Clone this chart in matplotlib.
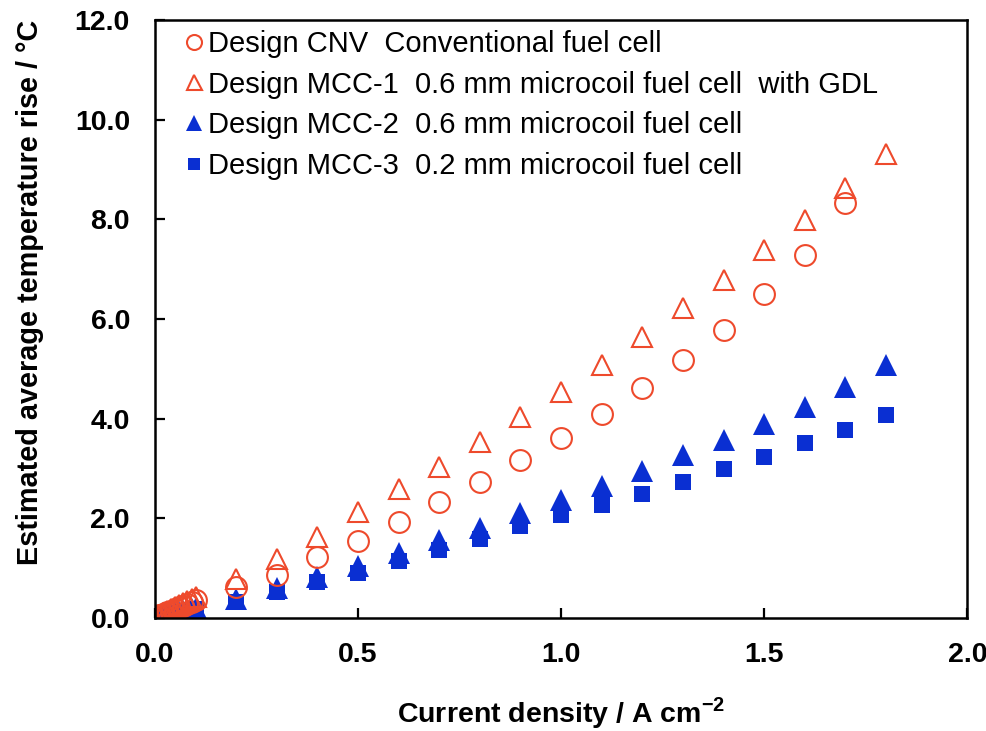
import matplotlib
matplotlib.use('Agg')
import matplotlib.pyplot as plt
from matplotlib.ticker import FormatStrFormatter, MultipleLocator

plt.rcParams['font.family'] = ['Liberation Sans', 'DejaVu Sans']

# current density, A cm-2
x_low = [0.0, 0.01, 0.02, 0.03, 0.04, 0.05, 0.06, 0.07, 0.08, 0.09, 0.1]
x_main = [0.2, 0.3, 0.4, 0.5, 0.6, 0.7, 0.8, 0.9, 1.0,
          1.1, 1.2, 1.3, 1.4, 1.5, 1.6, 1.7, 1.8]

# estimated average temperature rise, degC
cnv_low = [0.0, 0.05, 0.09, 0.12, 0.15, 0.19, 0.22, 0.25, 0.29, 0.32, 0.36]
cnv_main = [0.62, 0.86, 1.22, 1.54, 1.92, 2.32, 2.72, 3.18, 3.62,
            4.10, 4.62, 5.18, 5.78, 6.50, 7.28, 8.32]
mcc1_low = [0.0, 0.05, 0.10, 0.14, 0.18, 0.22, 0.26, 0.30, 0.34, 0.38, 0.42]
mcc1_main = [0.78, 1.19, 1.62, 2.12, 2.58, 3.04, 3.54, 4.04, 4.54,
             5.08, 5.64, 6.22, 6.78, 7.38, 7.98, 8.62, 9.32]
mcc2_low = [0.0, 0.02, 0.04, 0.06, 0.08, 0.10, 0.12, 0.14, 0.16, 0.18, 0.20]
mcc2_main = [0.38, 0.61, 0.82, 1.04, 1.30, 1.56, 1.80, 2.10, 2.36,
             2.64, 2.94, 3.28, 3.58, 3.90, 4.24, 4.64, 5.08]
mcc3_low = [0.0, 0.02, 0.04, 0.05, 0.07, 0.09, 0.11, 0.12, 0.14, 0.16, 0.18]
mcc3_main = [0.33, 0.52, 0.72, 0.90, 1.14, 1.36, 1.58, 1.84, 2.06,
             2.26, 2.48, 2.72, 2.98, 3.24, 3.52, 3.78, 4.08]

labels = ['Design CNV  Conventional fuel cell',
          'Design MCC-1  0.6 mm microcoil fuel cell  with GDL',
          'Design MCC-2  0.6 mm microcoil fuel cell',
          'Design MCC-3  0.2 mm microcoil fuel cell']

red = '#EE4A2C'
blue = '#0A2FD2'

fig = plt.figure(figsize=(9.87, 7.31), dpi=100)
ax = fig.add_axes([0.157, 0.1546, 0.823, 0.818])

h4, = ax.plot(x_low + x_main, mcc3_low + mcc3_main, 's', color=blue,
              markersize=11.5, markeredgewidth=0)
h3, = ax.plot(x_low + x_main, mcc2_low + mcc2_main, '^', color=blue,
              markersize=16, markeredgewidth=0)
h2, = ax.plot(x_low + x_main, mcc1_low + mcc1_main, '^', color=red,
              markerfacecolor='none', markersize=15, markeredgewidth=1.5)
h1, = ax.plot(x_low + x_main[:len(cnv_main)], cnv_low + cnv_main, 'o',
              color=red, markerfacecolor='none', markersize=15,
              markeredgewidth=1.5)

ax.set_xlim(0, 2.0)
ax.set_ylim(0, 12.0)
ax.xaxis.set_major_locator(MultipleLocator(0.5))
ax.yaxis.set_major_locator(MultipleLocator(2.0))
ax.xaxis.set_major_formatter(FormatStrFormatter('%.1f'))
ax.yaxis.set_major_formatter(FormatStrFormatter('%.1f'))
ax.tick_params(direction='in', length=7, width=1.6, labelsize=20.5)
ax.tick_params(axis='x', pad=17)
ax.tick_params(axis='y', pad=18)
for lab in ax.get_xticklabels() + ax.get_yticklabels():
    lab.set_fontweight('bold')
for s in ax.spines.values():
    s.set_linewidth(1.8)

ax.set_xlabel('Current density / A cm$^{\\mathregular{-2}}$', fontsize=20.5,
              fontweight='bold', labelpad=20)
ax.set_ylabel('Estimated average temperature rise / °C', fontsize=20.8,
              fontweight='bold', labelpad=22)
# label sits a bit above the axis middle in the original
ax.yaxis.label.set_y(0.545)

ax.legend([h1, h2, h3, h4], labels, loc='upper left', frameon=False,
          fontsize=21, markerscale=0.72, handlelength=0.6,
          handletextpad=0.2, labelspacing=0.44,
          borderaxespad=0.1, bbox_to_anchor=(0.019, 1.008))

fig.savefig('out.png', dpi=100)
